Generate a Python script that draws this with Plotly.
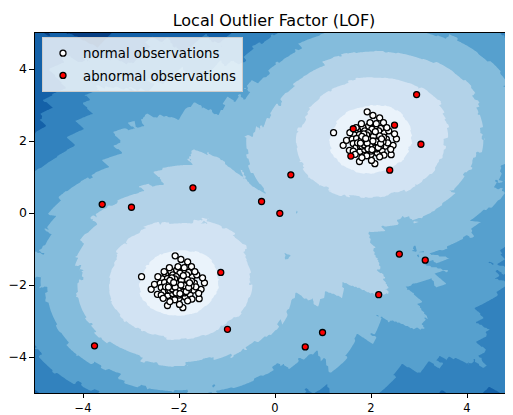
import numpy as np
import plotly.graph_objects as go

# ---------------- data ----------------
# normal observations, cluster around (2, 2)
upper_x = [1.22,1.92,2.04,2.18,2.26,2.53,2.49,2.42,2.08,2.01,1.42,1.49,1.76,2.46,1.55,
           2.32,2.27,2.20,2.09,1.95,1.83,1.72,1.65,1.61,1.63,1.69,1.77,1.89,2.00,2.13,2.23,2.30,2.35,
           2.26,2.16,2.02,1.87,1.76,1.70,1.72,1.78,1.87,2.00,2.11,2.20,2.25,
           2.37,1.69,1.63,2.27,1.91,2.18,1.81,2.41,1.56,1.98,1.80,2.11,2.33,1.67,
           1.98,2.04,1.91,1.95,2.07,2.11,1.86,1.83,2.00,2.14,1.92,2.04,1.81,2.16,2.02,1.89,1.96,2.09,1.80,2.07,
           1.94,2.18,1.86,2.00,2.11,1.91,2.05,1.98,1.85,2.15,1.78,2.20,2.04,1.92,1.94,2.09,1.81,2.22,1.89,2.02]
upper_y = [2.23,2.81,2.71,2.64,2.51,2.06,2.20,1.62,1.37,1.46,1.88,2.02,1.43,1.88,1.74,
           2.05,2.23,2.35,2.39,2.41,2.37,2.29,2.17,2.05,1.93,1.82,1.71,1.65,1.63,1.67,1.74,1.86,1.95,
           2.11,2.28,2.33,2.28,2.18,2.07,1.95,1.85,1.76,1.72,1.78,1.87,1.98,
           2.28,2.37,1.72,1.61,1.59,1.56,1.54,1.77,2.23,2.51,2.48,2.48,2.37,1.63,
           2.00,2.05,2.05,1.93,1.95,2.09,2.11,1.96,2.17,1.89,1.83,1.83,1.86,2.00,1.91,1.98,2.09,2.18,2.05,1.80,
           2.23,2.14,1.89,2.07,1.98,2.17,2.13,1.87,2.20,1.82,1.94,1.93,2.00,1.94,1.78,2.26,2.13,2.06,2.07,1.76]
# normal observations, cluster around (-2, -2)
lower_x = [-2.78,-2.08,-1.96,-1.82,-1.74,-1.47,-1.51,-1.58,-1.92,-1.99,-2.58,-2.51,-2.24,-1.54,-2.45,
           -1.68,-1.73,-1.80,-1.91,-2.05,-2.17,-2.28,-2.35,-2.39,-2.37,-2.31,-2.23,-2.11,-2.00,-1.87,-1.77,-1.70,-1.65,
           -1.74,-1.84,-1.98,-2.13,-2.24,-2.30,-2.28,-2.22,-2.13,-2.00,-1.89,-1.80,-1.75,
           -1.63,-2.31,-2.37,-1.73,-2.09,-1.82,-2.19,-1.59,-2.44,-2.02,-2.20,-1.89,-1.67,-2.33,
           -2.02,-1.96,-2.09,-2.05,-1.93,-1.89,-2.14,-2.17,-2.00,-1.86,-2.08,-1.96,-2.19,-1.84,-1.98,-2.11,-2.04,-1.91,-2.20,-1.93,
           -2.06,-1.82,-2.14,-2.00,-1.89,-2.09,-1.95,-2.02,-2.15,-1.85,-2.22,-1.80,-1.96,-2.08,-2.06,-1.91,-2.19,-1.78,-2.11,-1.98]
lower_y = [-1.77,-1.19,-1.29,-1.36,-1.49,-1.94,-1.80,-2.38,-2.63,-2.54,-2.12,-1.98,-2.57,-2.12,-2.26,
           -1.95,-1.77,-1.65,-1.61,-1.59,-1.63,-1.71,-1.83,-1.95,-2.07,-2.18,-2.29,-2.35,-2.37,-2.33,-2.26,-2.14,-2.05,
           -1.89,-1.72,-1.67,-1.72,-1.82,-1.93,-2.05,-2.15,-2.24,-2.28,-2.22,-2.13,-2.02,
           -1.72,-1.63,-2.28,-2.39,-2.41,-2.44,-2.46,-2.23,-1.77,-1.49,-1.52,-1.52,-1.63,-2.37,
           -2.00,-1.95,-1.95,-2.07,-2.05,-1.91,-1.89,-2.04,-1.83,-2.11,-2.17,-2.17,-2.14,-2.00,-2.09,-2.02,-1.91,-1.82,-1.95,-2.20,
           -1.77,-1.86,-2.11,-1.93,-2.02,-1.83,-1.87,-2.13,-1.80,-2.18,-2.06,-2.07,-2.00,-2.06,-2.22,-1.74,-1.87,-1.94,-1.93,-2.24]
# abnormal observations
outlier_x = [0.10, 2.59, 3.13, 2.16, 0.99, 0.63, -3.60, -2.99, -1.71, -0.28,
             2.95, 2.49, 1.63, 3.04, 1.58, 2.39, 0.33, -1.13, -0.99, -3.76]
outlier_y = [-0.01, -1.14, -1.31, -2.27, -3.32, -3.72, 0.24, 0.16, 0.70, 0.32,
             3.29, 2.44, 2.34, 1.91, 1.58, 1.19, 1.06, -1.65, -3.23, -3.69]

N_NEIGHBORS = 20
tick_vals = [-4, -2, 0, 2, 4]
tick_text = ["\u22124", "\u22122", "0", "2", "4"]

# ---------------- LOF decision function (negative LOF) on a grid ----------------
normal_x = upper_x + lower_x
normal_y = upper_y + lower_y
X = np.column_stack([normal_x + outlier_x, normal_y + outlier_y]).astype(float)
k = N_NEIGHBORS
D = np.sqrt(((X[:, None, :] - X[None, :, :]) ** 2).sum(-1))
np.fill_diagonal(D, np.inf)
idx = np.argsort(D, axis=1)[:, :k]
dist = np.take_along_axis(D, idx, 1)
kdist = dist[:, -1]
reach = np.maximum(dist, kdist[idx])
lrd = 1.0 / (reach.mean(1) + 1e-10)

NG = 300
g = np.linspace(-5, 5, NG)
GX, GY = np.meshgrid(g, g)
P = np.column_stack([GX.ravel(), GY.ravel()])
Z = np.empty(len(P))
for s in range(0, len(P), 10000):
    Q = P[s:s + 10000]
    Dq = np.sqrt(((Q[:, None, :] - X[None, :, :]) ** 2).sum(-1))
    iq = np.argpartition(Dq, k - 1, axis=1)[:, :k]
    dq = np.take_along_axis(Dq, iq, 1)
    rq = np.maximum(dq, kdist[iq])
    lq = 1.0 / (rq.mean(1) + 1e-10)
    Z[s:s + 10000] = -(lrd[iq] / lq[:, None]).mean(1)
Z = Z.reshape(GX.shape)

# contour levels chosen like matplotlib's default (MaxNLocator, 8 bins)
zmin, zmax = float(Z.min()), float(Z.max())
raw = (zmax - zmin) / 8
mag = 10 ** np.floor(np.log10(raw))
step = None
for m_ in [1, 2, 2.5, 5, 10]:
    if m_ * mag >= raw * (1 - 1e-9):
        step = m_ * mag
        break
lo = np.floor(zmin / step) * step
hi = np.ceil(zmax / step) * step
levels = np.arange(lo, hi + step / 2, step)
nb = len(levels) - 1

# Blues_r colormap sampled at band centres
blues = ['#f7fbff', '#deebf7', '#c6dbef', '#9ecae1', '#6baed6',
         '#4292c6', '#2171b5', '#08519c', '#08306b']
def hex2rgb(h):
    return np.array([int(h[i:i + 2], 16) for i in (1, 3, 5)], float)
brgb = [hex2rgb(h) for h in blues]
def blues_at(v):
    p = v * 8
    i = min(int(np.floor(p)), 7)
    f = p - i
    c = brgb[i] * (1 - f) + brgb[i + 1] * f
    return 'rgb(%d,%d,%d)' % tuple(np.round(c).astype(int))

band_colors = [blues_at(1 - (j + 0.5) / nb) for j in range(nb)]
cscale = [[j / (nb - 1), c] for j, c in enumerate(band_colors)]

fig = go.Figure()
fig.add_trace(go.Contour(
    x=g, y=g, z=np.round(Z, 3), autocontour=False,
    contours=dict(start=float(levels[1]), end=float(levels[-2]), size=float(step),
                  coloring='fill', showlines=False),
    line=dict(width=0),
    colorscale=cscale, showscale=False, hoverinfo='skip', showlegend=False,
))
fig.add_trace(go.Scatter(
    x=normal_x, y=normal_y, mode='markers', name='normal observations', legendgroup='a',
    marker=dict(size=6, color='white', line=dict(color='black', width=1.3)),
))
fig.add_trace(go.Scatter(
    x=outlier_x, y=outlier_y, mode='markers', name='abnormal observations', legendgroup='b',
    marker=dict(size=6, color='red', line=dict(color='black', width=1.3)),
))

# the page body has an 8px margin: size the figure so it ends at the window edge
OFF = 8
W, H = 513 - OFF, 415 - OFF
ml, mr, mt, mb = 35 - OFF, 0, 33 - OFF, 22
plot_w = W - ml - mr
plot_h = H - mt - mb
fig.update_layout(
    width=W, height=H,
    margin=dict(l=ml, r=mr, t=mt, b=mb, autoexpand=False),
    paper_bgcolor='white', plot_bgcolor='white',
    font=dict(family='DejaVu Sans', size=11.5, color='black'),
    title=dict(text='Local Outlier Factor (LOF)', x=(ml + plot_w / 2) / W, xanchor='center',
               xref='container', yref='container', y=1 - (20 - OFF) / H, yanchor='middle',
               font=dict(size=16, color='black')),
    xaxis=dict(range=[-5, -5 + plot_w / 48.0], tickvals=tick_vals, ticktext=tick_text,
               ticks='outside', ticklen=4, tickwidth=1.07, tickcolor='black', showline=True, mirror=True,
               linecolor='black', linewidth=1.07, showgrid=False, zeroline=False, automargin=False,
               tickfont=dict(size=11.5)),
    yaxis=dict(range=[-5, 5], tickvals=tick_vals, ticktext=tick_text,
               ticks='outside', ticklen=4.5, tickwidth=1.07, tickcolor='black', showline=True, mirror=True,
               linecolor='black', linewidth=1.07, showgrid=False, zeroline=False, automargin=False,
               tickfont=dict(size=12.5)),
    legend=dict(x=(42 - 35) / plot_w, y=1 - (37 - 33) / plot_h, xanchor='left', yanchor='top',
                bgcolor='rgba(255,255,255,0.8)', bordercolor='#cccccc', borderwidth=1,
                font=dict(size=13.3, color='black'), tracegroupgap=2),
)
fig.write_html("out.html")
